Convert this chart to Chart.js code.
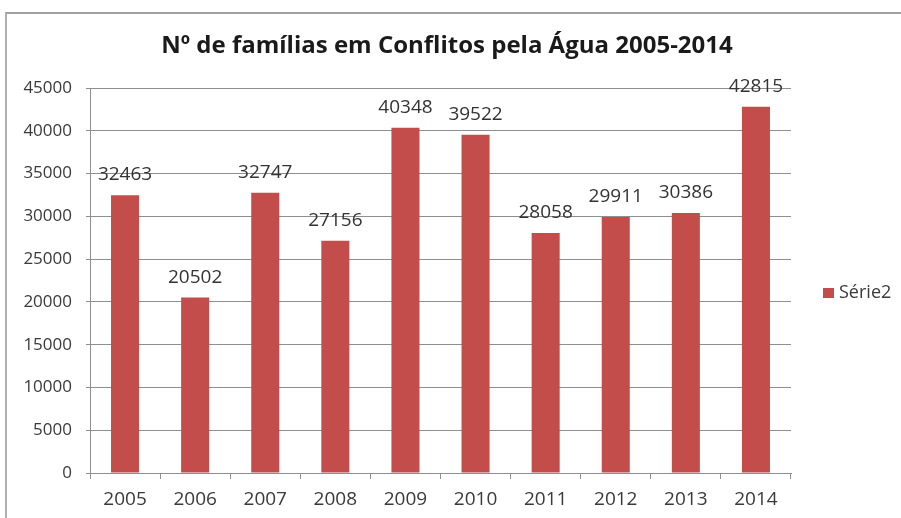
<!DOCTYPE html>
<html>
<head>
<meta charset="utf-8">
<script src="https://cdn.jsdelivr.net/npm/chart.js@4/dist/chart.umd.min.js"></script>
<style>
  html, body { margin: 0; padding: 0; background: #fff; }
  #wrap { position: relative; width: 901px; height: 518px; overflow: hidden; }
  #frame { position: absolute; left: 5px; top: 12px; width: 920px; height: 540px;
           border-top: 2px solid #a0a0a0; border-left: 2px solid #b0b0b0; }
  canvas { position: absolute; left: 0; top: 0; }
</style>
</head>
<body>
<div id="wrap">
  <div id="frame"></div>
  <canvas id="chart" width="901" height="518"></canvas>
</div>
<script>
// chart data
const years = ['2005', '2006', '2007', '2008', '2009', '2010', '2011', '2012', '2013', '2014'];
const familias = [32463, 20502, 32747, 27156, 40348, 39522, 28058, 29911, 30386, 42815];
const seriesName = 'Série2';
const chartTitle = 'Nº de famílias em Conflitos pela Água 2005-2014';
const yTicks = [0, 5000, 10000, 15000, 20000, 25000, 30000, 35000, 40000, 45000];

const barColor = '#c24d4b';
const gridColor = '#8f8f8f';
const textColor = '#3a3a3a';

// title, value labels and legend are painted by hand so they sit where Excel put them
const extrasPlugin = {
    id: 'extras',
    afterDatasetsDraw(chart) {
        const ctx = chart.ctx;
        const meta = chart.getDatasetMeta(0);
        ctx.save();
        ctx.font = '19px "Open Sans"';
        ctx.fillStyle = '#333333';
        ctx.textAlign = 'center';
        ctx.textBaseline = 'alphabetic';
        meta.data.forEach((bar, i) => {
            ctx.fillText(String(chart.data.datasets[0].data[i]), bar.x, bar.y - 15);
        });
        ctx.restore();
    },
    afterDraw(chart) {
        const ctx = chart.ctx;
        ctx.save();
        // title
        ctx.font = 'bold 24px "Open Sans"';
        ctx.fillStyle = '#1a1a1a';
        ctx.textAlign = 'center';
        ctx.textBaseline = 'alphabetic';
        ctx.fillText(chartTitle, 447, 53);
        // legend
        const ds = chart.data.datasets[0];
        ctx.fillStyle = ds.backgroundColor;
        ctx.fillRect(823, 288, 11, 10);
        ctx.font = '18px "Open Sans"';
        ctx.fillStyle = textColor;
        ctx.textAlign = 'left';
        ctx.textBaseline = 'middle';
        ctx.fillText(ds.label, 839, 293);
        ctx.restore();
    }
};

new Chart(document.getElementById('chart'), {
    type: 'bar',
    data: {
        labels: years,
        datasets: [{
            label: seriesName,
            data: familias,
            backgroundColor: barColor,
            borderWidth: 0,
            categoryPercentage: 1.0,
            barPercentage: 0.4
        }]
    },
    options: {
        responsive: false,
        animation: false,
        layout: { padding: { top: 88, left: 0, right: 110, bottom: 0 } },
        plugins: {
            legend: { display: false },
            title: { display: false },
            tooltip: { enabled: false }
        },
        scales: {
            x: {
                afterFit: (s) => { s.height = 45; },
                grid: {
                    display: true,
                    offset: true,
                    drawOnChartArea: false,
                    drawTicks: true,
                    tickLength: 6,
                    color: gridColor
                },
                border: { display: true, color: gridColor, width: 1 },
                ticks: {
                    color: textColor,
                    padding: 9,
                    font: { family: 'Open Sans', size: 19 }
                }
            },
            y: {
                min: 0,
                max: 45000,
                afterFit: (s) => { s.width = 90; },
                afterBuildTicks: (s) => { s.ticks = yTicks.map(v => ({ value: v })); },
                grid: {
                    color: gridColor,
                    drawTicks: true,
                    tickLength: 4
                },
                border: { display: true, color: gridColor, width: 1 },
                ticks: {
                    color: textColor,
                    padding: 14,
                    font: { family: 'Open Sans', size: 17 },
                    callback: (v) => String(v)
                }
            }
        }
    },
    plugins: [extrasPlugin]
});
</script>
</body>
</html>
